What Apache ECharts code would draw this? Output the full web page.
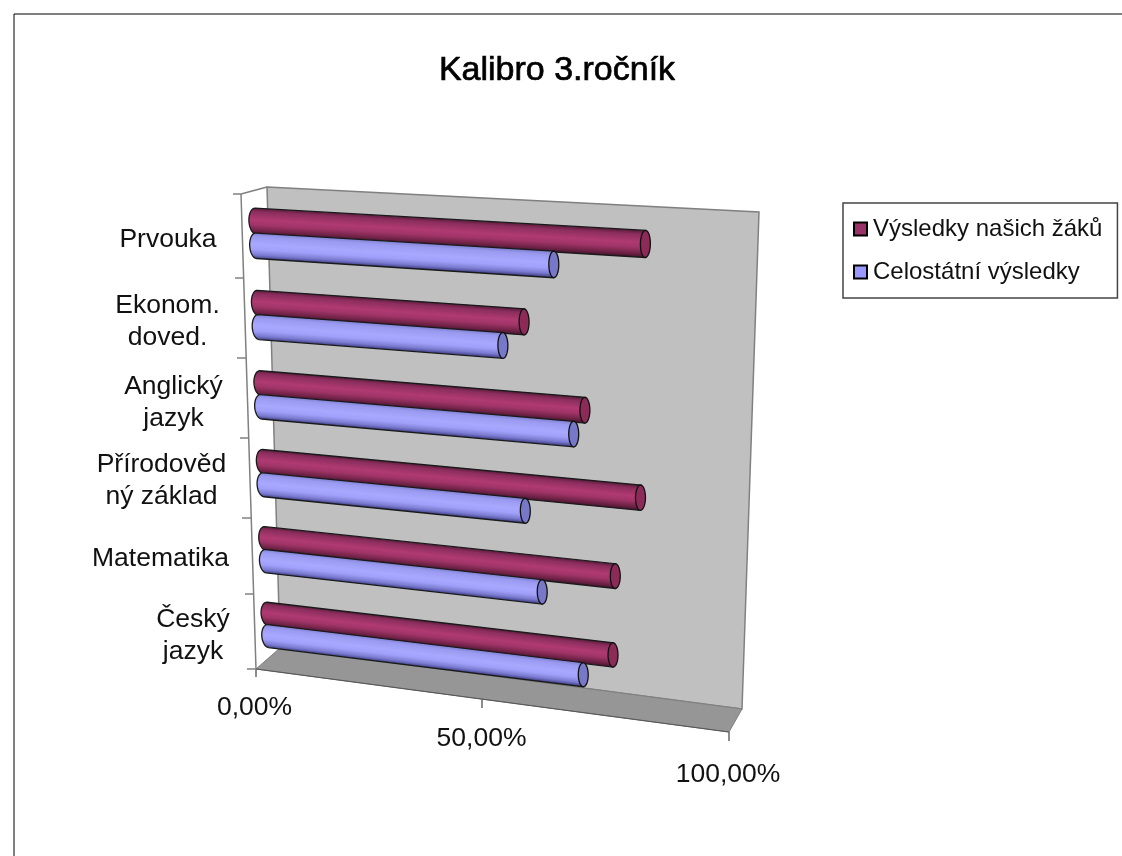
<!DOCTYPE html>
<html>
<head>
<meta charset="utf-8">
<style>html,body{margin:0;padding:0;background:#fff}#c{width:1122px;height:856px}</style>
<script src="https://cdn.jsdelivr.net/npm/echarts@6/dist/echarts.min.js"></script>
</head>
<body>
<div id="c"></div>
<script>
// DATA (bottom to top, as the category axis runs)
const categories = ['Český jazyk', 'Matematika', 'Přírodovědný základ', 'Anglický jazyk', 'Ekonom. doved.', 'Prvouka'];
const categoryLabels = ['Český\njazyk', 'Matematika', 'Přírodověd\nný základ', 'Anglický\njazyk', 'Ekonom.\ndoved.', 'Prvouka'];
const nasiZaci = [74.9, 75.1, 79.9, 68.5, 56.1, 79.9];
const celostatni = [68.8, 60.1, 56.5, 66.3, 51.8, 62];
const valueTicks = ['0,00%', '50,00%', '100,00%'];
const seriesNames = ['Výsledky našich žáků', 'Celostátní výsledky'];
const titleText = 'Kalibro 3.ročník';

// LAYOUT
const FONT = '"Liberation Sans", Arial, sans-serif';
const GRID = {left: 254.5, top: 192, width: 498, height: 470};
// image of the grid rectangle on the sloping mid-depth plane: TL, TR, BR, BL
const QUAD = [[254.5, 192], [752, 219], [735.5, 721], [269, 662]];

function solveHomography(q, g) {
  const [p0, p1, p2, p3] = q;
  const dx1 = p1[0] - p2[0], dx2 = p3[0] - p2[0], sx = p0[0] - p1[0] + p2[0] - p3[0];
  const dy1 = p1[1] - p2[1], dy2 = p3[1] - p2[1], sy = p0[1] - p1[1] + p2[1] - p3[1];
  const d = dx1 * dy2 - dx2 * dy1;
  const a13 = (sx * dy2 - dx2 * sy) / d, a23 = (dx1 * sy - sx * dy1) / d;
  const a11 = p1[0] - p0[0] + a13 * p1[0], a21 = p3[0] - p0[0] + a23 * p3[0], a31 = p0[0];
  const a12 = p1[1] - p0[1] + a13 * p1[1], a22 = p3[1] - p0[1] + a23 * p3[1], a32 = p0[1];
  return function (x, y) {
    const u = (x - g.left) / g.width, v = (y - g.top) / g.height;
    const w = a13 * u + a23 * v + 1;
    return [(a11 * u + a21 * v + a31) / w, (a12 * u + a22 * v + a32) / w];
  };
}
const project = solveHomography(QUAD, GRID);

const BAR_STOPS = [
  {top: '#5a1c3c', a: '#8c2e5e', b: '#b03a72', c: '#a03468', d: '#742449', bottom: '#4a1532', cap: '#8c2a58'},
  {top: '#7f7fd0', a: '#9a9af0', b: '#a8a8ff', c: '#a0a0fa', d: '#7a7ad0', bottom: '#404088', cap: '#7878c8'}
];

function makeRender(seriesIndex) {
  return function (params, api) {
    const value = api.value(0), cat = api.value(1);
    const p0 = api.coord([0, cat]), p1 = api.coord([value, cat]);
    const band = api.size([0, 1])[1];
    const thick = band * 0.31;
    const off = (seriesIndex === 0 ? -0.5 : 0.5) * band * 0.3;
    const yc = p0[1] + off;
    const at = (x, dy) => project(x, yc + dy);
    const pal = BAR_STOPS[seriesIndex];
    const N = 16, RX_START = 6.5, RX_END = 5;
    const startTop = at(p0[0], -thick / 2), startBot = at(p0[0], thick / 2);
    const endTop = at(p1[0], -thick / 2), endBot = at(p1[0], thick / 2);
    const S = [(startTop[0] + startBot[0]) / 2, (startTop[1] + startBot[1]) / 2];
    const E = [(endTop[0] + endBot[0]) / 2, (endTop[1] + endBot[1]) / 2];
    const dir = [E[0] - S[0], E[1] - S[1]];
    const len = Math.hypot(dir[0], dir[1]) || 1;
    const ux = dir[0] / len, uy = dir[1] / len;
    const body = [];
    const su = [(startBot[0] - startTop[0]) / 2, (startBot[1] - startTop[1]) / 2];
    for (let i = 0; i <= N; i++) {
      const a = Math.PI / 2 + Math.PI * i / N;
      body.push([S[0] + Math.cos(a) * RX_START * ux + Math.sin(a) * su[0], S[1] + Math.cos(a) * RX_START * uy + Math.sin(a) * su[1]]);
    }
    body.push(endTop, endBot);
    const eu = [(endBot[0] - endTop[0]) / 2, (endBot[1] - endTop[1]) / 2];
    const cap = [];
    for (let i = 0; i < 2 * N; i++) {
      const a = 2 * Math.PI * i / (2 * N);
      cap.push([E[0] + Math.cos(a) * RX_END * ux + Math.sin(a) * eu[0], E[1] + Math.cos(a) * RX_END * uy + Math.sin(a) * eu[1]]);
    }
    // shading runs across the bar, perpendicular to its sloping axis
    const nx = -uy, ny = ux;
    const M = [(S[0] + E[0]) / 2, (S[1] + E[1]) / 2];
    const h = (Math.hypot(su[0], su[1]) + Math.hypot(eu[0], eu[1])) / 2;
    const grad = new echarts.graphic.LinearGradient(M[0] - nx * h, M[1] - ny * h, M[0] + nx * h, M[1] + ny * h, [
      {offset: 0, color: pal.top}, {offset: 0.15, color: pal.a}, {offset: 0.45, color: pal.b},
      {offset: 0.65, color: pal.c}, {offset: 0.85, color: pal.d}, {offset: 1, color: pal.bottom}
    ], true);
    return {
      type: 'group',
      children: [
        {type: 'polygon', shape: {points: body}, style: {fill: grad, stroke: '#1a1a1a', lineWidth: 1.3}},
        {type: 'polygon', shape: {points: cap}, style: {fill: pal.cap, stroke: '#111', lineWidth: 1.3}}
      ]
    };
  };
}

const WALL_EDGE = '#808080';
const poly = (pts, fill, stroke, lw, z) => ({type: 'polygon', z: z, shape: {points: pts}, style: {fill: fill, stroke: stroke, lineWidth: lw}});
const line = (a, b, c, lw, z) => ({type: 'line', z: z || 1, shape: {x1: a[0], y1: a[1], x2: b[0], y2: b[1]}, style: {stroke: c, lineWidth: lw}});
const label = (s, x, y) => ({
  type: 'text', z: 3, x: x, y: y,
  style: {text: s, font: '26.5px ' + FONT, fill: '#111', align: 'center', verticalAlign: 'middle', lineHeight: 32}
});

const catPos = [[193, 636], [160.5, 559], [161.5, 481], [173.5, 403], [167.5, 322], [168, 240]];
const tickPos = [[254.5, 708], [481.5, 739], [728, 775]];
const leftTicks = [[233, 194], [235, 278], [237, 358], [240, 438], [242, 518], [245, 594], [247, 669]];
const leftEdge = y => 241 + (y - 194) * (15 / 475);

const graphics = [
  line([14, 14], [1122, 14], '#000', 1, 1),
  line([14, 14], [14, 856], '#000', 1, 1),
  poly([[267, 187], [759, 212], [742, 709], [280, 648]], '#c0c0c0', WALL_EDGE, 1.5, 1),
  poly([[280, 648], [742, 709], [729, 732], [256, 669]], '#969696', WALL_EDGE, 1, 1),
  line([267, 187], [241, 194], WALL_EDGE, 1.5, 1),
  line([241, 194], [256, 669], WALL_EDGE, 1.5, 1),
  line([256, 669], [729, 732], '#555', 1.2, 1),
  line([256, 669], [256, 677], '#666', 1.5, 1),
  line([482, 699], [482, 708], '#666', 1.5, 1),
  line([729, 732], [729, 741], '#666', 1.5, 1)
];
leftTicks.forEach(t => graphics.push(line(t, [leftEdge(t[1]), t[1]], '#808080', 1.5, 1)));
categoryLabels.forEach((s, i) => graphics.push(label(s, catPos[i][0], catPos[i][1])));
valueTicks.forEach((s, i) => graphics.push(label(s, tickPos[i][0], tickPos[i][1])));

const chart = echarts.init(document.getElementById('c'), null, {renderer: 'canvas'});
chart.setOption({
  animation: false,
  backgroundColor: '#fff',
  title: {
    text: titleText, left: 552, top: 49, textAlign: 'center',
    textStyle: {fontFamily: FONT, fontSize: 34, fontWeight: 'normal', color: '#000', textBorderColor: '#000', textBorderWidth: 0.7}
  },
  grid: {left: GRID.left, top: GRID.top, width: GRID.width, height: GRID.height},
  xAxis: {type: 'value', min: 0, max: 100, interval: 50, show: false},
  yAxis: {type: 'category', data: categories, show: false},
  legend: {
    orient: 'vertical', left: 843, top: 203, padding: [14, 15, 14, 10],
    backgroundColor: '#fff', borderColor: '#444', borderWidth: 1.5,
    itemWidth: 13, itemHeight: 13, itemGap: 19, icon: 'rect',
    itemStyle: {borderColor: '#000', borderWidth: 2},
    textStyle: {fontFamily: FONT, fontSize: 24, color: '#111', padding: [0, 0, 0, 1]},
    data: seriesNames
  },
  graphic: {elements: graphics},
  series: [
    {name: seriesNames[0], type: 'custom', renderItem: makeRender(0), encode: {x: 0, y: 1}, z: 5, itemStyle: {color: '#993366'},
      data: nasiZaci.map((v, i) => [v, i])},
    {name: seriesNames[1], type: 'custom', renderItem: makeRender(1), encode: {x: 0, y: 1}, z: 5, itemStyle: {color: '#9999ff'},
      data: celostatni.map((v, i) => [v, i])}
  ]
});
</script>
</body>
</html>
